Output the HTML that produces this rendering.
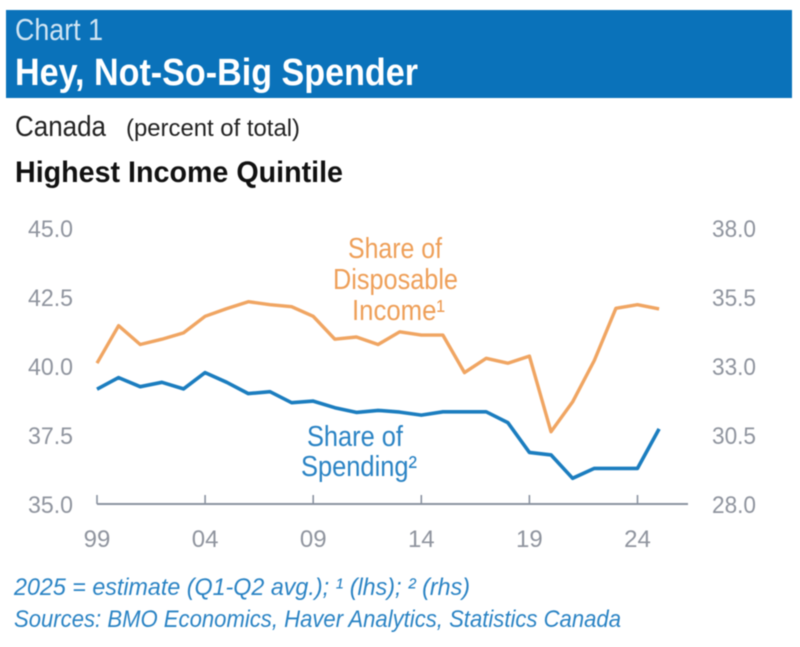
<!DOCTYPE html>
<html lang="en">
<head>
<meta charset="utf-8">
<title>Hey, Not-So-Big Spender</title>
<style>
html,body{margin:0;padding:0;background:#fff}
svg{display:block;font-family:"Liberation Sans Narrow","Liberation Sans",sans-serif}
#soft{filter:blur(0.6px)}
</style>
</head>
<body>
<svg id="chart" xmlns="http://www.w3.org/2000/svg" width="800" height="647" viewBox="0 0 800 647">
<g id="soft">
  <rect x="6" y="10" width="786" height="88" fill="#0a72ba"/>
  <text x="15" y="40" font-size="31" fill="#cfe4f3" textLength="88" lengthAdjust="spacingAndGlyphs">Chart 1</text>
  <text x="15" y="85" font-size="38" font-weight="700" fill="#fff" textLength="403" lengthAdjust="spacingAndGlyphs">Hey, Not-So-Big Spender</text>
  <text x="15" y="136" font-size="29" fill="#222" textLength="91" lengthAdjust="spacingAndGlyphs">Canada</text>
  <text x="126" y="136" font-size="24" fill="#222" textLength="174" lengthAdjust="spacingAndGlyphs">(percent of total)</text>
  <text x="15" y="182" font-size="30" font-weight="700" fill="#111" textLength="328" lengthAdjust="spacingAndGlyphs">Highest Income Quintile</text>

  <g id="axes"></g>
  <g id="series"></g>

  <g font-size="29" fill="#ee9f58">
    <text x="348" y="258" textLength="94" lengthAdjust="spacingAndGlyphs">Share of</text>
    <text x="333" y="289" textLength="125" lengthAdjust="spacingAndGlyphs">Disposable</text>
    <text x="352" y="320" textLength="93" lengthAdjust="spacingAndGlyphs">Income¹</text>
  </g>
  <g font-size="29" fill="#2a83c4">
    <text x="307" y="446" textLength="96" lengthAdjust="spacingAndGlyphs">Share of</text>
    <text x="301" y="476" textLength="116" lengthAdjust="spacingAndGlyphs">Spending²</text>
  </g>

  <text x="14" y="595" font-size="24" font-style="italic" fill="#2a83c4" textLength="456" lengthAdjust="spacingAndGlyphs">2025 = estimate (Q1-Q2 avg.); ¹ (lhs); ² (rhs)</text>
  <text x="14" y="627" font-size="24" font-style="italic" fill="#2a83c4" textLength="607" lengthAdjust="spacingAndGlyphs">Sources: BMO Economics, Haver Analytics, Statistics Canada</text>
</g>
</svg>
<script>
var years = [1999,2000,2001,2002,2003,2004,2005,2006,2007,2008,2009,2010,2011,2012,2013,2014,2015,2016,2017,2018,2019,2020,2021,2022,2023,2024,2025];
var incomeShare = [40.1,41.46,40.78,40.97,41.2,41.8,42.08,42.33,42.22,42.15,41.8,40.97,41.05,40.78,41.24,41.12,41.12,39.76,40.28,40.1,40.36,37.62,38.7,40.2,42.09,42.22,42.07];
var spendingShare = [32.16,32.58,32.25,32.41,32.17,32.76,32.41,32.0,32.07,31.67,31.73,31.49,31.32,31.39,31.33,31.22,31.34,31.34,31.34,30.95,29.87,29.78,28.93,29.29,29.29,29.29,30.72];
var leftTicks = [45.0,42.5,40.0,37.5,35.0];
var rightTicks = [38.0,35.5,33.0,30.5,28.0];
var xTickYears = [1999,2004,2009,2014,2019,2024];
var xTickLabels = ['99','04','09','14','19','24'];

var NS = 'http://www.w3.org/2000/svg';
var plotLeft = 97, plotBottom = 504, plotTop = 228, yearStep = 21.62;
function xScale(year){ return plotLeft + (year - 1999) * yearStep; }
function yLeft(v){ return plotBottom - (v - 35) * (plotBottom - plotTop) / 10; }
function yRight(v){ return plotBottom - (v - 28) * (plotBottom - plotTop) / 10; }
function make(tag, attrs, parent){
  var el = document.createElementNS(NS, tag);
  for (var k in attrs) el.setAttribute(k, attrs[k]);
  parent.appendChild(el);
  return el;
}
var axes = document.getElementById('axes');
var series = document.getElementById('series');

var axisLine = make('line', {x1: plotLeft, x2: 688, y1: plotBottom, y2: plotBottom, stroke: '#8b93a1', 'stroke-width': 2}, axes);



xTickYears.forEach(function(year, i){
  var tick = make('line', {x1: xScale(year), x2: xScale(year), y1: plotBottom - 9, y2: plotBottom, stroke: '#8b93a1', 'stroke-width': 1.6}, axes);
  
  
  var label = make('text', {x: xScale(year), y: 547, 'font-size': 24, fill: '#8f949e', 'text-anchor': 'middle'}, axes);
  label.textContent = xTickLabels[i];
  
  
});
leftTicks.forEach(function(v){
  var label = make('text', {x: 28, y: yLeft(v) + 9, 'font-size': 24, fill: '#8f949e', textLength: 45, lengthAdjust: 'spacingAndGlyphs'}, axes);
  label.textContent = v.toFixed(1);
  
  
});
rightTicks.forEach(function(v){
  var label = make('text', {x: 712, y: yRight(v) + 9, 'font-size': 24, fill: '#8f949e', textLength: 44, lengthAdjust: 'spacingAndGlyphs'}, axes);
  label.textContent = v.toFixed(1);
  
  
});

function points(values, yFn){
  return values.map(function(v, i){ return xScale(years[i]).toFixed(1) + ',' + yFn(v).toFixed(1); }).join(' ');
}
var incomeLine = make('polyline', {points: points(incomeShare, yLeft), fill: 'none', stroke: '#f0a562', 'stroke-width': 3.4, 'stroke-linejoin': 'round'}, series);


var spendingLine = make('polyline', {points: points(spendingShare, yRight), fill: 'none', stroke: '#1b7dbf', 'stroke-width': 3.6, 'stroke-linejoin': 'round'}, series);


</script>
</body>
</html>
